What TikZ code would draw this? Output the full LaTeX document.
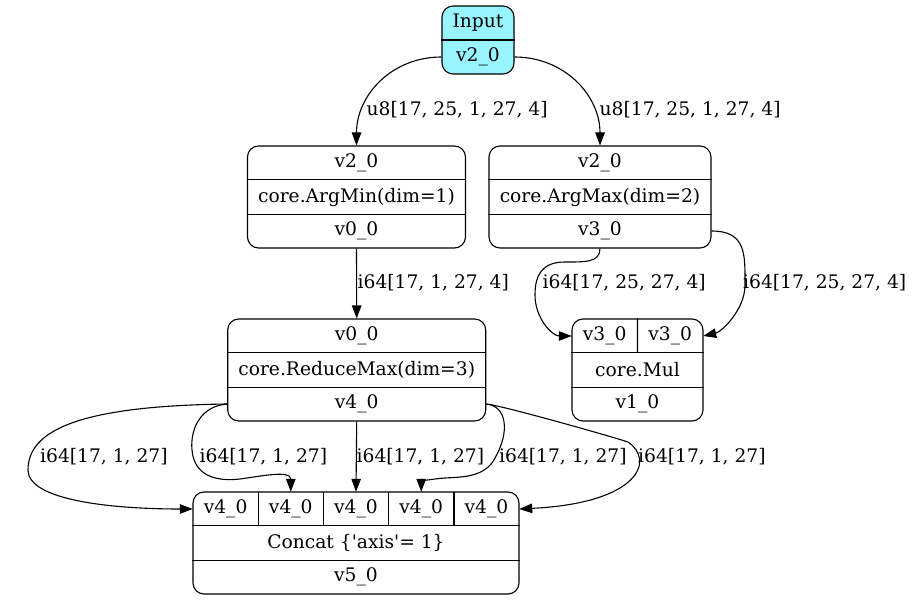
\documentclass[tikz,border=0pt]{standalone}
\usepackage{fontspec}
\setmainfont{DejaVu Serif}
\usetikzlibrary{arrows.meta,calc}

\definecolor{inputcyan}{HTML}{98F5FF}

\tikzset{
  rec/.style={draw, rounded corners=11pt, line width=1.1pt, inner sep=0pt},
  divider/.style={line width=1.1pt},
  cell/.style={inner sep=0pt, minimum height=34pt},
  txt/.style={inner sep=0pt},
  edge/.style={line width=1.1pt, -{Triangle[length=13pt,width=9.5pt]}},
  elabel/.style={anchor=west, inner sep=0pt},
}

\begin{document}
\begin{tikzpicture}[x=1pt, y=-1pt, font=\fontsize{18.67}{22}\selectfont]
\useasboundingbox (0,0) rectangle (913,601);

% ---- Input ----
\node[rec, fill=inputcyan, minimum width=72pt, minimum height=68pt] (input) at (478,40) {};
\draw[divider] (input.west) -- (input.east);
\node[txt] (input-r1) at (478,23) {Input};
\node[txt] (input-r2) at (478,57) {v2\_0};

% ---- ArgMin ----
\node[rec, minimum width=218pt, minimum height=102pt] (argmin) at (356.5,197) {};
\draw[divider] ($(argmin.north west)!1/3!(argmin.south west)$) -- ($(argmin.north east)!1/3!(argmin.south east)$);
\draw[divider] ($(argmin.north west)!2/3!(argmin.south west)$) -- ($(argmin.north east)!2/3!(argmin.south east)$);
\node[txt] (argmin-r1) at (356.5,163) {v2\_0};
\node[txt] (argmin-r2) at (356.5,197) {core.ArgMin(dim=1)};
\node[txt] (argmin-r3) at (356.5,231) {v0\_0};

% ---- ArgMax ----
\node[rec, minimum width=222pt, minimum height=102pt] (argmax) at (600,197) {};
\draw[divider] ($(argmax.north west)!1/3!(argmax.south west)$) -- ($(argmax.north east)!1/3!(argmax.south east)$);
\draw[divider] ($(argmax.north west)!2/3!(argmax.south west)$) -- ($(argmax.north east)!2/3!(argmax.south east)$);
\node[txt] (argmax-r1) at (600,163) {v2\_0};
\node[txt] (argmax-r2) at (600,197) {core.ArgMax(dim=2)};
\node[txt] (argmax-r3) at (600,231) {v3\_0};

% ---- ReduceMax ----
\node[rec, minimum width=258pt, minimum height=102pt] (reduce) at (356.7,370) {};
\draw[divider] ($(reduce.north west)!1/3!(reduce.south west)$) -- ($(reduce.north east)!1/3!(reduce.south east)$);
\draw[divider] ($(reduce.north west)!2/3!(reduce.south west)$) -- ($(reduce.north east)!2/3!(reduce.south east)$);
\node[txt] (reduce-r1) at (356.7,336) {v0\_0};
\node[txt] (reduce-r2) at (356.7,370) {core.ReduceMax(dim=3)};
\node[txt] (reduce-r3) at (356.7,404) {v4\_0};

% ---- Mul ----
\node[rec, minimum width=131pt, minimum height=102pt] (mul) at (637.5,370) {};
\draw[divider] ($(mul.north west)!1/3!(mul.south west)$) -- ($(mul.north east)!1/3!(mul.south east)$);
\draw[divider] ($(mul.north west)!2/3!(mul.south west)$) -- ($(mul.north east)!2/3!(mul.south east)$);
\draw[divider] (mul.north) -- ($(mul.north)!1/3!(mul.south)$);
\node[cell, minimum width=65.5pt] (mul-a) at (604.75,336) {v3\_0};
\node[cell, minimum width=65.5pt] (mul-b) at (670.25,336) {v3\_0};
\node[txt] (mul-r2) at (637.5,370) {core.Mul};
\node[txt] (mul-r3) at (637.5,404) {v1\_0};

% ---- Concat ----
\node[rec, minimum width=326pt, minimum height=102pt] (concat) at (356,543) {};
\draw[divider] ($(concat.north west)!1/3!(concat.south west)$) -- ($(concat.north east)!1/3!(concat.south east)$);
\draw[divider] ($(concat.north west)!2/3!(concat.south west)$) -- ($(concat.north east)!2/3!(concat.south east)$);
\foreach \i/\cx in {1/225.6, 2/290.8, 3/356, 4/421.2, 5/486.4} {
  \node[cell, minimum width=65.2pt] (cat\i) at (\cx,509) {v4\_0};
}
\foreach \i in {1,2,3,4} {
  \draw[divider] (cat\i.north east) -- (cat\i.south east);
}
\node[txt] (concat-r2) at (356,543) {Concat \{\textquotesingle axis\textquotesingle = 1\}};
\node[txt] (concat-r3) at (356,577) {v5\_0};

% ---- connectors ----
\draw[edge] (input-r2 -| input.west) .. controls +(-50,0) and +(0,-50) .. (argmin.north);
\draw[edge] (input-r2 -| input.east) .. controls +(50,0) and +(0,-50) .. (argmax.north);
\draw[edge] (argmin.south) -- (reduce.north);
\draw[edge] (argmax.south) .. controls +(0,14) and (585,262) .. (565,262)
  .. controls (542,262) and (535,275) .. (535,295)
  .. controls (535,318) and (552,336) .. (mul-a.west);
\draw[edge] (argmax-r3 -| argmax.east) .. controls +(35,0) and +(0,-30) .. (745,285)
  .. controls +(0,25) and +(18,-4) .. (mul-b.east);
\draw[edge] (reduce-r3 -| reduce.west) .. controls (80,406) and (28,430) .. (28,470)
  .. controls (28,500) and (110,509) .. (cat1.west);
\draw[edge] (reduce-r3 -| reduce.west) .. controls (200,406) and (190,430) .. (192,450)
  .. controls (194,475) and (215,482) .. (240,479)
  .. controls (262,476) and (290.8,470) .. (cat2.north);
\draw[edge] (reduce.south) -- (cat3.north);
\draw[edge] (reduce-r3 -| reduce.east) .. controls (507,406) and (510,432) .. (495,458)
  .. controls (485,478) and (460,477) .. (445,478)
  .. controls (430,479) and (421.2,482) .. (cat4.north);
\draw[edge] (reduce-r3 -| reduce.east) .. controls (500,405) and (610,436) .. (628,442)
  .. controls (655,460) and (640,503) .. (cat5.east);

% ---- connector labels ----
\node[elabel] (l-in-min) at (366.5,110) {u8[17, 25, 1, 27, 4]};
\node[elabel] (l-in-max) at (599.5,110) {u8[17, 25, 1, 27, 4]};
\node[elabel] (l-min-red) at (357.5,283) {i64[17, 1, 27, 4]};
\node[elabel] (l-max-mul-a) at (542.5,283) {i64[17, 25, 27, 4]};
\node[elabel] (l-max-mul-b) at (743,283) {i64[17, 25, 27, 4]};
\node[elabel] (l-red-cat1) at (40,457) {i64[17, 1, 27]};
\node[elabel] (l-red-cat2) at (199.5,457) {i64[17, 1, 27]};
\node[elabel] (l-red-cat3) at (356.5,457) {i64[17, 1, 27]};
\node[elabel] (l-red-cat4) at (499,457) {i64[17, 1, 27]};
\node[elabel] (l-red-cat5) at (638,457) {i64[17, 1, 27]};
\end{tikzpicture}
\end{document}
